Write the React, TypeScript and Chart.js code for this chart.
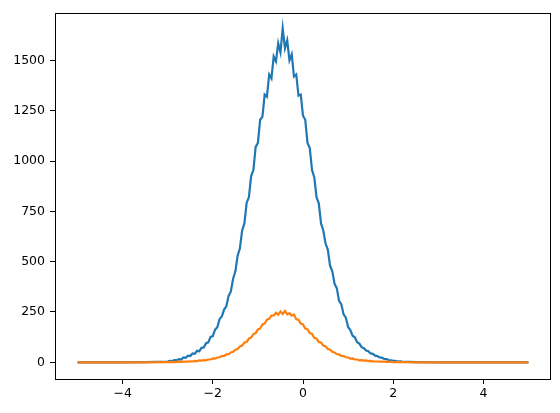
import { useEffect, useRef } from 'react';
import Chart from 'chart.js/auto';

const xTicks = [-4, -2, 0, 2, 4];
const yTicks = [0, 250, 500, 750, 1000, 1250, 1500];

// bin centres (flat tails + the busy middle)
const xs = [
  -5, -4.5, -4, -3.5,
  -3, -2.95, -2.9, -2.85, -2.8, -2.75, -2.7, -2.65, -2.6, -2.55,
  -2.5, -2.45, -2.4, -2.35, -2.3, -2.25, -2.2, -2.15, -2.1, -2.05,
  -2, -1.95, -1.9, -1.85, -1.8, -1.75, -1.7, -1.65, -1.6, -1.55,
  -1.5, -1.45, -1.4, -1.35, -1.3, -1.25, -1.2, -1.15, -1.1, -1.05,
  -1, -0.95, -0.9, -0.85, -0.8, -0.75, -0.7, -0.65, -0.6, -0.55,
  -0.5, -0.45, -0.4, -0.35, -0.3, -0.25, -0.2, -0.15, -0.1, -0.05,
  0, 0.05, 0.1, 0.15, 0.2, 0.25, 0.3, 0.35, 0.4, 0.45,
  0.5, 0.55, 0.6, 0.65, 0.7, 0.75, 0.8, 0.85, 0.9, 0.95,
  1, 1.05, 1.1, 1.15, 1.2, 1.25, 1.3, 1.35, 1.4, 1.45,
  1.5, 1.55, 1.6, 1.65, 1.7, 1.75, 1.8, 1.85, 1.9, 1.95,
  2, 2.05, 2.1, 2.15, 2.2,
  2.5, 3, 3.5, 4, 4.5, 5,
];

const blueCounts = [
  0, 0, 0, 1,
  4, 7, 6, 11, 10, 16, 14, 24, 22, 33,
  31, 44, 42, 57, 55, 72, 74, 95, 99, 126,
  130, 162, 174, 215, 228, 262, 278, 330, 352, 415,
  452, 530, 565, 655, 690, 792, 820, 925, 955, 1070,
  1090, 1205, 1220, 1330, 1320, 1430, 1410, 1520, 1495, 1585,
  1540, 1660, 1560, 1600, 1500, 1530, 1420, 1430, 1325, 1330,
  1225, 1205, 1090, 1065, 955, 920, 820, 790, 690, 655,
  590, 560, 480, 452, 390, 368, 305, 288, 238, 222,
  175, 160, 132, 124, 100, 93, 75, 70, 58, 55,
  44, 42, 33, 31, 24, 23, 17, 16, 11, 10,
  7, 7, 4, 5, 3,
  1, 0, 0, 0, 0, 0,
];

const orangeCounts = [
  0, 0, 0, 0,
  1, 1, 2, 1, 2, 3, 2, 3, 4, 3,
  5, 4, 7, 6, 9, 8, 11, 10, 14, 14,
  19, 18, 24, 25, 31, 32, 39, 40, 49, 52,
  63, 66, 79, 83, 98, 101, 118, 123, 140, 145,
  163, 168, 188, 192, 212, 216, 232, 233, 246, 237,
  252, 240, 255, 238, 244, 232, 238, 214, 212, 192,
  188, 168, 164, 145, 141, 122, 118, 101, 98, 83,
  79, 66, 63, 52, 49, 40, 39, 32, 31, 25,
  24, 18, 19, 14, 14, 10, 11, 8, 9, 6,
  7, 5, 4, 4, 3, 4, 3, 2, 2, 2,
  1, 1, 1, 1, 1,
  0, 0, 0, 0, 0, 0,
];

const FONT = { family: 'DejaVu Sans', size: 12.5 };

const framePlugin = {
  id: 'frame',
  afterDraw(chart: Chart) {
    const { ctx, chartArea: a } = chart;
    ctx.save();
    ctx.strokeStyle = '#000';
    ctx.lineWidth = 1;
    ctx.strokeRect(Math.round(a.left) + 0.5, Math.round(a.top) + 0.5,
      Math.round(a.right - a.left) - 1, Math.round(a.bottom - a.top) - 1);
    ctx.restore();
  },
};

export default function App() {
  const canvasRef = useRef<HTMLCanvasElement>(null);
  const chartRef = useRef<Chart | null>(null);

  useEffect(() => {
    document.body.style.margin = '0';
    if (!canvasRef.current) return;
    if (chartRef.current) chartRef.current.destroy();

    const tickGrid = { drawOnChartArea: false, drawTicks: true, tickLength: 5, color: '#000', lineWidth: 1 };

    chartRef.current = new Chart(canvasRef.current, {
      type: 'line',
      data: {
        datasets: [
          {
            data: xs.map((x, i) => ({ x, y: blueCounts[i] })),
            borderColor: '#1f77b4',
            borderWidth: 2.2,
            pointRadius: 0,
            tension: 0,
            order: 1,
          },
          {
            data: xs.map((x, i) => ({ x, y: orangeCounts[i] })),
            borderColor: '#ff7f0e',
            borderWidth: 2.2,
            pointRadius: 0,
            tension: 0,
            order: 0,
          },
        ],
      },
      options: {
        animation: false,
        responsive: true,
        maintainAspectRatio: false,
        layout: { padding: { top: 10, right: 9, left: 0, bottom: 0 } },
        plugins: { legend: { display: false }, tooltip: { enabled: false } },
        scales: {
          x: {
            type: 'linear',
            min: -5.5,
            max: 5.5,
            grid: tickGrid,
            border: { display: false },
            afterBuildTicks: (s: any) => { s.ticks = xTicks.map((v) => ({ value: v })); },
            afterFit: (s: any) => { s.height = 34; },
            ticks: {
              color: '#000',
              font: FONT,
              padding: 2,
              maxRotation: 0,
              callback: (v: any) => String(v).replace('-', '\u2212'),
            },
          },
          y: {
            min: -83,
            max: 1738,
            grid: tickGrid,
            border: { display: false },
            afterBuildTicks: (s: any) => { s.ticks = yTicks.map((v) => ({ value: v })); },
            afterFit: (s: any) => { s.width = 55; },
            ticks: { color: '#000', font: FONT, padding: 5, callback: (v: any) => String(v) },
          },
        },
      },
      plugins: [framePlugin],
    });

    return () => chartRef.current?.destroy();
  }, []);

  return (
    <div style={{ width: 560, height: 413, position: 'relative', background: '#fff' }}>
      <canvas ref={canvasRef} />
    </div>
  );
}
